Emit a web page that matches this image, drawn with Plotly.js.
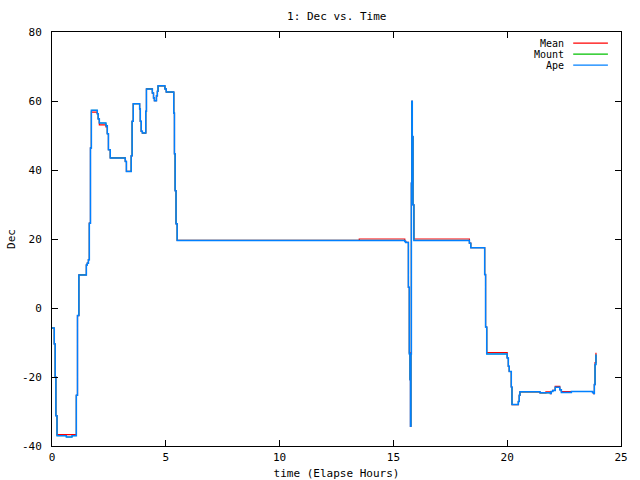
<!DOCTYPE html>
<html>
<head>
<meta charset="utf-8">
<script src="https://cdn.plot.ly/plotly-3.0.1.min.js"></script>
<style>html,body{margin:0;padding:0;background:#fff;}#chart{width:640px;height:480px;}</style>
</head>
<body>
<div id="chart"></div>
<script>
// Shared time axis (elapsed hours), step starts
const timeHours = [0, 0.10, 0.14, 0.17, 0.22, 0.63, 0.88, 1.07, 1.12, 1.18, 1.51, 1.55, 1.60, 1.64, 1.69, 1.73,
  1.99, 2.03, 2.08, 2.37, 2.43, 2.48, 2.56, 3.22, 3.27, 3.48, 3.52, 3.57, 3.85, 3.88, 3.92, 3.97, 4.12, 4.15,
  4.41, 4.46, 4.50, 4.59, 4.63, 4.66, 4.96, 5.02, 5.35, 5.38, 5.41, 5.45, 5.50, 13.50, 15.50, 15.54, 15.66,
  15.70, 15.73, 15.75, 15.77, 15.79, 15.81, 15.83, 15.86, 15.90, 18.34, 18.40, 19.01, 19.05, 19.10, 20.00,
  20.05, 20.09, 20.18, 20.21, 20.49, 20.53, 20.56, 21.44, 21.70, 21.90, 21.93, 22.00, 22.11, 22.31, 22.38,
  22.82, 23.75, 23.80, 23.83, 23.86, 23.90];

const apeDec = [-5.8, -10.4, -20.0, -31.2, -37.0, -37.4, -37.0, -25.3, -2.2, 9.6, 12.5, 13.0, 14.0, 24.6, 46.4, 57.3,
  56.3, 54.8, 53.6, 52.8, 50.5, 45.9, 43.5, 42.5, 39.6, 44.1, 54.1, 59.2, 57.7, 54.1, 51.2, 50.7, 57.0, 63.5,
  62.3, 60.9, 60.1, 61.5, 62.8, 64.4, 63.5, 62.6, 56.5, 44.7, 34.0, 24.4, 19.6, 19.6, 19.3, 19.0, 6.0,
  -13.3, -20.8, -34.3, -13.3, 36.2, 59.9, 49.7, 29.9, 19.6, 18.8, 17.5, 9.7, -5.5, -13.3, -14.5,
  -16.9, -18.4, -22.9, -28.0, -27.1, -25.3, -24.3, -24.6, -24.6, -24.8, -24.2, -23.9, -23.0, -23.7, -24.5,
  -24.2, -24.5, -24.8, -22.2, -16.4, -13.5];

const mountDec = [-5.8, -10.4, -20.0, -31.2, -37.0, -37.4, -37.0, -25.3, -2.2, 9.6, 12.5, 13.0, 14.0, 24.6, 46.4, 57.3,
  56.3, 54.8, 53.6, 52.8, 50.5, 45.9, 43.5, 42.5, 39.6, 44.1, 54.1, 59.2, 57.7, 54.1, 51.2, 50.7, 57.0, 63.5,
  62.3, 60.9, 60.1, 61.5, 62.8, 64.4, 63.5, 62.6, 56.5, 44.7, 34.0, 24.4, 19.6, 19.6, 19.3, 19.0, 6.0,
  -13.3, -20.8, -34.3, -13.3, 36.2, 59.9, 49.7, 29.9, 19.6, 18.8, 17.5, 9.7, -5.5, -13.3, -14.5,
  -16.9, -18.4, -22.9, -28.0, -27.1, -25.3, -24.3, -24.6, -24.6, -24.8, -24.2, -23.9, -23.0, -23.7, -24.5,
  -24.2, -24.5, -24.8, -22.2, -16.4, -13.5];

const meanDec = [-5.8, -10.4, -20.0, -31.2, -36.7, -36.7, -36.7, -25.3, -2.2, 9.6, 12.5, 13.0, 14.0, 24.6, 46.4, 56.8,
  56.3, 54.8, 53.1, 52.5, 50.5, 45.9, 43.5, 42.5, 39.6, 44.1, 54.1, 59.2, 57.7, 54.1, 51.2, 50.7, 57.0, 63.5,
  62.3, 60.9, 60.1, 61.5, 62.8, 64.4, 63.5, 62.6, 56.5, 44.7, 34.0, 24.4, 19.6, 20.0, 19.3, 19.0, 6.0,
  -13.0, -20.8, -34.3, -13.0, 36.2, 59.9, 49.7, 29.9, 20.0, 18.8, 17.5, 9.7, -5.5, -12.9, -14.5,
  -16.9, -18.4, -22.9, -28.0, -27.1, -25.3, -24.3, -24.6, -24.3, -24.8, -24.2, -23.9, -22.7, -23.7, -24.2,
  -24.2, -24.5, -24.8, -22.2, -15.8, -13.0];

const seriesNames = ['Mean', 'Mount', 'Ape'];
const seriesColors = ['#ff0000', '#00c000', '#0080ff'];
const xTickVals = [0, 5, 10, 15, 20, 25];
const xTickText = ['0', '5', '10', '15', '20', '25'];
const yTickVals = [-40, -20, 0, 20, 40, 60, 80];
const yTickText = ['-40', '-20', '0', '20', '40', '60', '80'];

const FONT = 'DejaVu Sans Mono, monospace';
const seriesData = [meanDec, mountDec, apeDec];
const lineWidths = [1.2, 0.8, 1.5];

const traces = seriesData.map((ys, i) => ({
  x: timeHours, y: ys, type: 'scatter', mode: 'lines', name: seriesNames[i],
  line: {color: seriesColors[i], width: lineWidths[i], shape: 'hv'}, showlegend: false
}));

// custom gnuplot-style legend: text right-aligned, sample line to the right
const annotations = [];
const shapes = [];
seriesNames.forEach((n, i) => {
  const yp = 0.973 - i * 0.0265;
  annotations.push({xref: 'paper', yref: 'paper', x: 0.903, y: yp, xanchor: 'right', yanchor: 'middle',
    text: n, showarrow: false, font: {family: FONT, size: 10, color: '#000'}});
  shapes.push({type: 'line', xref: 'paper', yref: 'paper', x0: 0.916, x1: 0.977, y0: yp, y1: yp,
    line: {color: seriesColors[i], width: 1.2}});
});

const axisCommon = {
  showgrid: false, zeroline: false, showline: true, linecolor: '#000', linewidth: 1,
  mirror: 'allticks', ticks: 'inside', ticklen: 6, tickcolor: '#000', tickwidth: 1,
  tickmode: 'array', tickfont: {family: FONT, size: 11, color: '#000'}
};

const layout = {
  width: 640, height: 480,
  margin: {l: 52, r: 19, t: 32, b: 34},
  paper_bgcolor: '#fff', plot_bgcolor: '#fff',
  title: {text: '1: Dec vs. Time', x: 0.5262, xanchor: 'center', y: 0.967, yanchor: 'middle',
    font: {family: FONT, size: 11, color: '#000'}},
  xaxis: Object.assign({}, axisCommon, {range: [0, 25], tickvals: xTickVals, ticktext: xTickText,
    ticklabelstandoff: 1,
    title: {text: 'time (Elapse Hours)', standoff: 7, font: {family: FONT, size: 11, color: '#000'}}}),
  yaxis: Object.assign({}, axisCommon, {range: [-40, 80], tickvals: yTickVals, ticktext: yTickText,
    ticklabelstandoff: 7,
    title: {text: 'Dec', standoff: 4, font: {family: FONT, size: 11, color: '#000'}}}),
  annotations: annotations, shapes: shapes, showlegend: false
};

Plotly.newPlot('chart', traces, layout, {staticPlot: true, displayModeBar: false});
</script>
</body>
</html>
